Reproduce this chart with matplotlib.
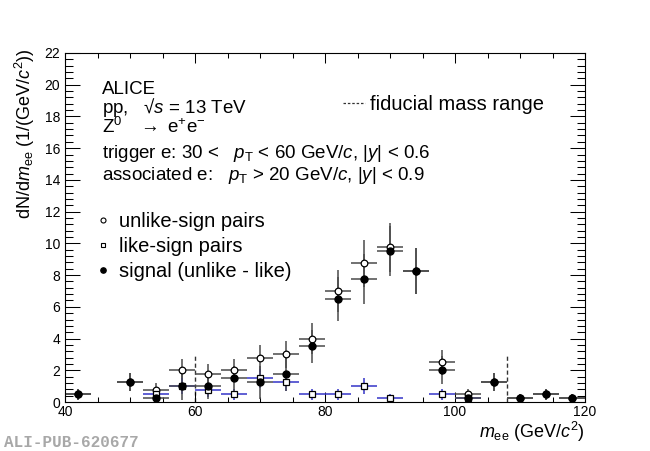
import matplotlib.pyplot as plt
from matplotlib.lines import Line2D
from matplotlib.ticker import MultipleLocator

plt.rcParams['font.family'] = ['Liberation Sans', 'DejaVu Sans']
plt.rcParams['mathtext.fontset'] = 'custom'
plt.rcParams['mathtext.rm'] = 'Liberation Sans'
plt.rcParams['mathtext.it'] = 'Liberation Sans:italic'
plt.rcParams['mathtext.bf'] = 'Liberation Sans:bold'

# bin centres (GeV/c^2), bins are 4 GeV wide
mass = [42, 50, 54, 58, 62, 66, 70, 74, 78, 82, 86, 90, 94, 98, 102, 106, 110, 114, 118]
bin_half = 2

unlike = [0.5, 1.25, 0.75, 2.0, 1.75, 2.0, 2.75, 3.0, 4.0, 7.0, 8.75, 9.75, 8.25, 2.5, 0.5, 1.25, 0.25, 0.5, 0.25]
unlike_err = [0.35, 0.56, 0.43, 0.71, 0.66, 0.71, 0.83, 0.87, 1.0, 1.32, 1.48, 1.56, 1.44, 0.79, 0.35, 0.56, 0.25, 0.35, 0.25]

like_mass = [54, 58, 62, 66, 70, 74, 78, 82, 86, 90, 98, 102]
like = [0.5, 1.0, 0.75, 0.5, 1.5, 1.25, 0.5, 0.5, 1.0, 0.25, 0.5, 0.25]
like_err = [0.35, 0.5, 0.43, 0.35, 0.61, 0.56, 0.35, 0.35, 0.5, 0.25, 0.35, 0.25]

signal = [0.5, 1.25, 0.25, 1.0, 1.0, 1.5, 1.25, 1.75, 3.5, 6.5, 7.75, 9.5, 8.25, 2.0, 0.25, 1.25, 0.25, 0.5, 0.25]
signal_err = [0.35, 0.56, 0.56, 0.87, 0.79, 0.79, 1.03, 1.03, 1.06, 1.37, 1.56, 1.58, 1.44, 0.87, 0.43, 0.56, 0.25, 0.35, 0.25]

fiducial_edges = [60, 108]
fiducial_top = 2.9

err_col = '#4a4a4a'
blue = '#3434c8'

fig = plt.figure(figsize=(6.5, 4.51), dpi=100)
ax = fig.add_axes([0.1, 0.1086, 0.8, 0.7739])

# error bars first, markers on top
ax.errorbar(mass, unlike, xerr=bin_half, yerr=unlike_err, fmt='none',
            ecolor=err_col, elinewidth=1.1, capsize=0, zorder=2)
ax.errorbar(like_mass, like, xerr=bin_half, yerr=like_err, fmt='none',
            ecolor=blue, elinewidth=1.1, capsize=0, zorder=2)
ax.errorbar(mass, signal, xerr=bin_half, yerr=signal_err, fmt='none',
            ecolor=err_col, elinewidth=1.1, capsize=0, zorder=2)

ax.plot(mass, unlike, 'o', ms=4.8, mfc='white', mec='black', mew=0.9, zorder=4)
ax.plot(like_mass, like, 's', ms=4.5, mfc='white', mec='black', mew=0.9, zorder=5)
ax.plot(mass, signal, 'o', ms=5.0, color='black', zorder=6)

ax.vlines(fiducial_edges, 0, fiducial_top, colors='#333333', linestyles=(0, (3, 2)),
          linewidth=1.0, zorder=1)

ax.set_xlim(40, 120)
ax.set_ylim(0, 22)
ax.xaxis.set_major_locator(MultipleLocator(20))
ax.xaxis.set_minor_locator(MultipleLocator(5))
ax.yaxis.set_major_locator(MultipleLocator(2))
ax.yaxis.set_minor_locator(MultipleLocator(0.4))
ax.tick_params(which='both', direction='in', top=True, right=True, labelsize=10, width=0.75)
ax.tick_params(axis='x', which='major', length=7.2, pad=2.2)
ax.tick_params(axis='x', which='minor', length=3.6)
ax.tick_params(axis='y', which='major', length=10.8, pad=3.6)
ax.tick_params(axis='y', which='minor', length=6)
for sp in ax.spines.values():
    sp.set_linewidth(0.8)

ax.set_xlabel(r'$m_{\mathrm{ee}}$ (GeV/$c^{2}$)', fontsize=13, loc='right')
ax.xaxis.set_label_coords(1.0, -0.052)
ax.set_ylabel(r'd$\mathrm{N}$/d$m_{\mathrm{ee}}$ (1/(GeV/$c^{2}$))', fontsize=13, loc='top')
ax.yaxis.set_label_coords(-0.053, 1.015)

tkw = dict(transform=ax.transAxes, fontsize=13.5, va='baseline', ha='left')
ax.text(0.071, 0.8817, 'ALICE', **tkw)
ax.text(0.071, 0.828, 'pp,   \u221a$s$ = 13 TeV', **tkw)
ax.text(0.071, 0.772, r'Z$^{0}$   $\rightarrow$ e$^{+}$e$^{-}$', **tkw)
ax.text(0.071, 0.6983, r'trigger e: 30 <   $p_{\mathrm{T}}$ < 60 GeV/$c$, |$y$| < 0.6', **tkw)
ax.text(0.071, 0.637, r'associated e:   $p_{\mathrm{T}}$ > 20 GeV/$c$, |$y$| < 0.9', **tkw)

handles = [
    Line2D([], [], ls='none', marker='o', ms=3.6, mfc='white', mec='black', mew=0.8),
    Line2D([], [], ls='none', marker='s', ms=3.4, mfc='white', mec='black', mew=0.8),
    Line2D([], [], ls='none', marker='o', ms=3.8, color='black'),
]
leg1 = ax.legend(handles, ['unlike-sign pairs', 'like-sign pairs', 'signal (unlike - like)'],
                 loc='upper left', bbox_to_anchor=(0.0577, 0.545), frameon=False,
                 fontsize=14.5, handlelength=0.8, handletextpad=0.4, labelspacing=0.3,
                 borderpad=0, borderaxespad=0)
ax.add_artist(leg1)

fid_handle = Line2D([], [], color='#333333', ls=(0, (2, 1.5)), lw=0.9)
ax.legend([fid_handle], ['fiducial mass range'], loc='upper left',
          bbox_to_anchor=(0.535, 0.8785), frameon=False, fontsize=14.5,
          handlelength=1.1, handletextpad=0.25, borderpad=0, borderaxespad=0)

fig.text(4 / 650, 1 - 447 / 451, 'ALI-PUB-620677', family=['Liberation Mono', 'DejaVu Sans Mono'],
         weight='bold', color='#a8a8a8', fontsize=11.5, va='baseline')

fig.savefig('out.png', dpi=100)
